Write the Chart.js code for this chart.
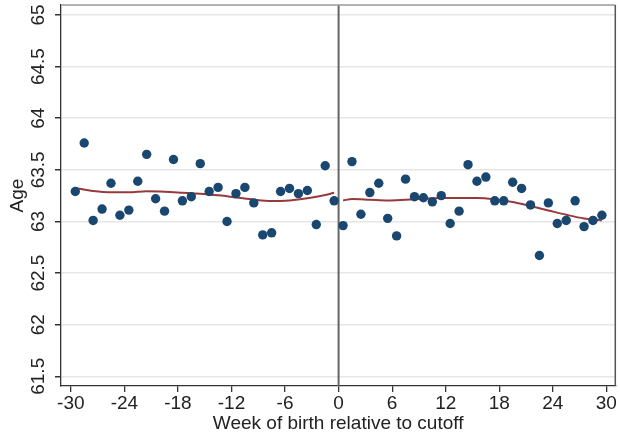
<!DOCTYPE html>
<html>
<head>
<meta charset="utf-8">
<script src="https://cdn.jsdelivr.net/npm/chart.js@4.4.1/dist/chart.umd.min.js"></script>
<style>
    html, body { margin: 0; padding: 0; background: #fff; }
    #wrap { width: 620px; height: 440px; }
</style>
</head>
<body>
<div id="wrap"><canvas id="rdChart" width="620" height="440"></canvas></div>
<script>
// Week of birth (bin centres) and mean age, left and right of the cutoff
const weeksLeft = [-29.5, -28.5, -27.5, -26.5, -25.5, -24.5, -23.5, -22.5, -21.5, -20.5,
                   -19.5, -18.5, -17.5, -16.5, -15.5, -14.5, -13.5, -12.5, -11.5, -10.5,
                   -9.5, -8.5, -7.5, -6.5, -5.5, -4.5, -3.5, -2.5, -1.5, -0.5];
const ageLeft = [63.29, 63.76, 63.01, 63.12, 63.37, 63.06, 63.11, 63.39, 63.65, 63.22,
                 63.10, 63.60, 63.20, 63.24, 63.56, 63.29, 63.33, 63.00, 63.27, 63.33,
                 63.18, 62.87, 62.89, 63.29, 63.32, 63.27, 63.30, 62.97, 63.54, 63.20];

const weeksRight = [0.5, 1.5, 2.5, 3.5, 4.5, 5.5, 6.5, 7.5, 8.5, 9.5,
                    10.5, 11.5, 12.5, 13.5, 14.5, 15.5, 16.5, 17.5, 18.5, 19.5,
                    20.5, 21.5, 22.5, 23.5, 24.5, 25.5, 26.5, 27.5, 28.5, 29.5];
const ageRight = [62.96, 63.58, 63.07, 63.28, 63.37, 63.03, 62.86, 63.41, 63.24, 63.23,
                  63.19, 63.25, 62.98, 63.10, 63.55, 63.39, 63.43, 63.20, 63.20, 63.38,
                  63.32, 63.16, 62.67, 63.18, 62.98, 63.01, 63.20, 62.95, 63.01, 63.06];

// Smoothed fit on each side
const fitWeeksLeft = [-29.5, -27.5, -25.5, -23.5, -21.5, -19.5, -17.5, -15.5,
                      -13.5, -11.5, -9.5, -7.5, -5.5, -3.5, -1.5, -0.5];
const fitLeft = [63.324, 63.295, 63.282, 63.282, 63.292, 63.288, 63.279, 63.269,
                 63.253, 63.233, 63.211, 63.198, 63.204, 63.224, 63.256, 63.279];
const fitWeeksRight = [0.5, 1.5, 3.5, 5.5, 7.5, 9.5, 11.5, 13.5,
                       15.5, 17.5, 19.5, 21.5, 23.5, 25.5, 27.5, 29.5];
const fitRight = [63.204, 63.217, 63.211, 63.204, 63.211, 63.220, 63.227, 63.227,
                  63.227, 63.214, 63.188, 63.149, 63.107, 63.065, 63.029, 63.010];

// Axis ticks
const xTicks = [-30, -24, -18, -12, -6, 0, 6, 12, 18, 24, 30];
const yTicks = [61.5, 62, 62.5, 63, 63.5, 64, 64.5, 65];
const cutoff = 0;

const navy = '#1a476f';
const maroon = '#973a3c';
const axisColor = '#333';
const textColor = '#222';
const fontFamily = "'Liberation Sans', Arial, sans-serif";
const fontSize = 19;

let rdChart = null;

document.addEventListener('DOMContentLoaded', function() {
    initChart();
});

function toPoints(xs, ys) {
    return xs.map((x, i) => ({ x: x, y: ys[i] }));
}

// Stata-style extras: vertical cutoff line, plot box, rotated y labels
const stataPlugin = {
    id: 'stataExtras',
    beforeDatasetsDraw(chart) {
        const { ctx, chartArea, scales } = chart;
        const px = scales.x.getPixelForValue(cutoff);
        ctx.save();
        ctx.strokeStyle = '#666';
        ctx.lineWidth = 2;
        ctx.beginPath();
        ctx.moveTo(px, chartArea.top);
        ctx.lineTo(px, chartArea.bottom);
        ctx.stroke();
        ctx.restore();
    },
    afterDraw(chart) {
        const { ctx, chartArea, scales } = chart;
        ctx.save();
        // top and right edges of the plot region
        ctx.lineWidth = 1.5;
        ctx.strokeStyle = '#9a9a9a';
        ctx.beginPath();
        ctx.moveTo(chartArea.left, chartArea.top);
        ctx.lineTo(chartArea.right, chartArea.top);
        ctx.stroke();
        ctx.strokeStyle = '#555';
        ctx.beginPath();
        ctx.moveTo(chartArea.right, chartArea.top);
        ctx.lineTo(chartArea.right, chartArea.bottom);
        ctx.stroke();

        // y tick labels, read bottom to top
        ctx.fillStyle = textColor;
        ctx.font = fontSize + 'px ' + fontFamily;
        ctx.textAlign = 'center';
        ctx.textBaseline = 'middle';
        yTicks.forEach(v => {
            const py = scales.y.getPixelForValue(v);
            ctx.save();
            ctx.translate(38.5, py);
            ctx.rotate(-Math.PI / 2);
            ctx.fillText(String(v), 0, 0);
            ctx.restore();
        });
        ctx.restore();
    }
};

function initChart() {
    const ctx = document.getElementById('rdChart').getContext('2d');

    rdChart = new Chart(ctx, {
        type: 'scatter',
        data: {
            datasets: [
                {
                    label: 'left bins',
                    data: toPoints(weeksLeft, ageLeft),
                    backgroundColor: navy,
                    borderColor: navy,
                    pointRadius: 4.7,
                    borderWidth: 0
                },
                {
                    label: 'right bins',
                    data: toPoints(weeksRight, ageRight),
                    backgroundColor: navy,
                    borderColor: navy,
                    pointRadius: 4.7,
                    borderWidth: 0
                },
                {
                    type: 'line',
                    label: 'fit left',
                    data: toPoints(fitWeeksLeft, fitLeft),
                    borderColor: maroon,
                    borderWidth: 2,
                    pointRadius: 0,
                    cubicInterpolationMode: 'monotone',
                    fill: false
                },
                {
                    type: 'line',
                    label: 'fit right',
                    data: toPoints(fitWeeksRight, fitRight),
                    borderColor: maroon,
                    borderWidth: 2,
                    pointRadius: 0,
                    cubicInterpolationMode: 'monotone',
                    fill: false
                }
            ]
        },
        options: {
            responsive: false,
            animation: false,
            devicePixelRatio: 1,
            layout: {
                padding: { top: 5, right: 2, left: 0, bottom: 0 }
            },
            scales: {
                x: {
                    type: 'linear',
                    min: -31.1,
                    max: 31.0,
                    afterBuildTicks: scale => { scale.ticks = xTicks.map(v => ({ value: v })); },
                    afterFit: scale => { scale.height = 54; },
                    grid: {
                        drawOnChartArea: false,
                        drawTicks: true,
                        tickLength: 6,
                        tickColor: axisColor,
                        lineWidth: 1.3
                    },
                    border: { color: axisColor, width: 1.3 },
                    ticks: {
                        autoSkip: false,
                        maxRotation: 0,
                        padding: 0,
                        color: textColor,
                        font: { size: fontSize, family: fontFamily }
                    },
                    title: {
                        display: true,
                        text: 'Week of birth relative to cutoff',
                        color: textColor,
                        font: { size: fontSize, family: fontFamily },
                        padding: { top: 0, bottom: 5 }
                    }
                },
                y: {
                    type: 'linear',
                    min: 61.406,
                    max: 65.097,
                    afterBuildTicks: scale => { scale.ticks = yTicks.map(v => ({ value: v })); },
                    afterFit: scale => { scale.width = 61; },
                    grid: {
                        color: '#e6e6e6',
                        lineWidth: 1.5,
                        drawTicks: true,
                        tickLength: 6,
                        tickColor: axisColor
                    },
                    border: { color: axisColor, width: 1.3 },
                    ticks: {
                        display: false,
                        autoSkip: false
                    },
                    title: {
                        display: true,
                        text: 'Age',
                        color: textColor,
                        font: { size: fontSize, family: fontFamily },
                        padding: { top: 6, bottom: 0 }
                    }
                }
            },
            plugins: {
                legend: { display: false },
                tooltip: { enabled: false }
            }
        },
        plugins: [stataPlugin]
    });
}
</script>
</body>
</html>
